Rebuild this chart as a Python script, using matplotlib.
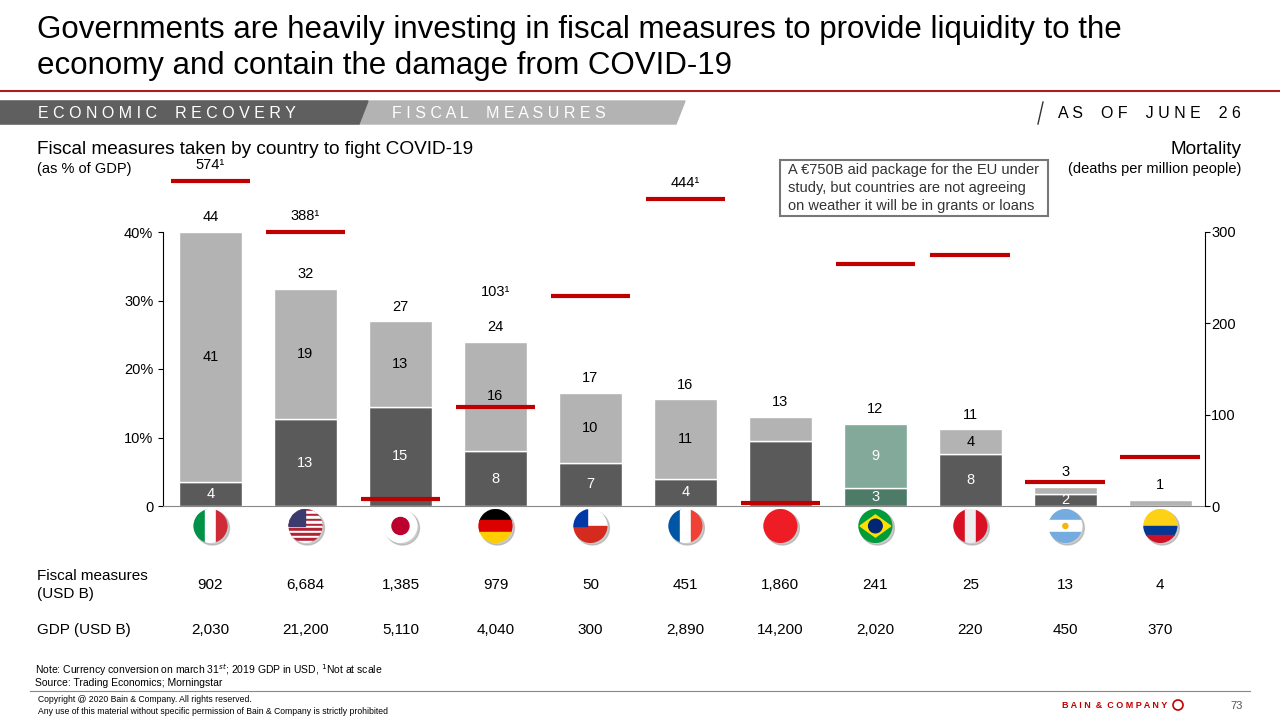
import matplotlib.pyplot as plt
import matplotlib.patches as mpatches
import numpy as np

plt.rcParams['font.family'] = ['Liberation Sans', 'DejaVu Sans']

countries = ['IT', 'US', 'JP', 'DE', 'CL', 'FR', 'CN', 'BR', 'PE', 'AR', 'CO']
spending = [3.5, 12.7, 14.5, 8, 6.3, 4, 9.5, 2.6, 7.6, 1.8, 0]
loans = [36.5, 19, 12.5, 16, 10.2, 11.6, 3.5, 9.4, 3.6, 1, 0.9]
spend_lbl = ['4', '13', '15', '8', '7', '4', '', '3', '8', '2', '']
loan_lbl = ['41', '19', '13', '16', '10', '11', '', '9', '4', '', '']
total_lbl = ['44', '32', '27', '24', '17', '16', '13', '12', '11', '3', '1']
fatality = [356, 300, 8, 108, 230, 336, 3, 265, 275, 26, 54]
fatality_lbl = ['574¹', '388¹', '', '103¹', '', '444¹', '', '', '', '', '']
fiscal_usd = ['902', '6,684', '1,385', '979', '50', '451', '1,860', '241', '25', '13', '4']
gdp_usd = ['2,030', '21,200', '5,110', '4,040', '300', '2,890', '14,200', '2,020', '220', '450', '370']

W, H = 1280, 720
fig = plt.figure(figsize=(12.8, 7.2), dpi=100)
ov = fig.add_axes([0, 0, 1, 1])
ov.set_xlim(0, W)
ov.set_ylim(H, 0)
ov.axis('off')


def spaced(words):
    return '    '.join(' '.join(w) for w in words.split())


# header
ov.text(37, 30, 'Governments are heavily investing in fiscal measures to provide liquidity to the',
        fontsize=22.5, va='center')
ov.text(37, 66, 'economy and contain the damage from COVID-19', fontsize=22.5, va='center')
ov.plot([0, W], [91, 91], color='#b01c1c', lw=1.5)
ov.add_patch(mpatches.Polygon([[0, 101], [685, 101], [676, 124], [0, 124]], color='#b3b3b3'))
ov.add_patch(mpatches.Polygon([[0, 101], [368, 101], [359, 124], [0, 124]], color='#5f5f5f'))
ov.text(38, 113, spaced('ECONOMIC RECOVERY'), color='white', fontsize=11.5, va='center')
ov.text(392, 113, spaced('FISCAL MEASURES'), color='white', fontsize=11.5, va='center')
ov.plot([1038, 1043], [124, 102], color='#333333', lw=1)
ov.text(1241, 113, spaced('AS OF JUNE 26'), fontsize=11.5, va='center', ha='right')

ov.text(37, 149, 'Fiscal measures taken by country to fight COVID-19', fontsize=13.7, va='center')
ov.text(37, 169, '(as % of GDP)', fontsize=10.5, va='center')
ov.text(1241, 149, 'Mortality', fontsize=13.7, va='center', ha='right')
ov.text(1241, 169, '(deaths per million people)', fontsize=10.5, va='center', ha='right')

# chart
ax = fig.add_axes([163 / W, (H - 506) / H, (1205 - 163) / W, (506 - 232) / H])
ax2 = ax.twinx()
x = np.arange(len(countries))
bw = 0.66
ax.bar(x, spending, bw, color=['#5a5a5a'] * 7 + ['#4e7a68'] + ['#5a5a5a'] * 3,
       edgecolor='white', lw=1, zorder=2)
ax.bar(x, loans, bw, bottom=spending, color=['#b3b3b3'] * 7 + ['#82a99a'] + ['#b3b3b3'] * 3,
       edgecolor='white', lw=1, zorder=2)
ax.set_xlim(-0.5, 10.47)
ax.set_ylim(0, 40)
ax.set_yticks([0, 10, 20, 30, 40])
ax.set_yticklabels(['0', '10%', '20%', '30%', '40%'], fontsize=10.5)
ax.set_xticks([])
for s in ['top', 'right']:
    ax.spines[s].set_visible(False)
ax.spines['bottom'].set_color('#888888')
ax2.set_ylim(0, 300)
ax2.set_yticks([0, 100, 200, 300])
ax2.tick_params(labelsize=10.5, pad=1)
for s in ['top', 'left', 'bottom']:
    ax2.spines[s].set_visible(False)
for i in range(len(x)):
    if spend_lbl[i]:
        ax.text(x[i], spending[i] / 2, spend_lbl[i], ha='center', va='center', color='white', fontsize=10.5, zorder=3)
    if loan_lbl[i]:
        ax.text(x[i], spending[i] + loans[i] / 2, loan_lbl[i], ha='center', va='center',
                color='white' if i == 7 else 'black', fontsize=10.5, zorder=3)
    top = spending[i] + loans[i]
    ax.text(x[i], top + 1.1, total_lbl[i], ha='center', va='bottom', fontsize=10.5, clip_on=False)
    ax2.hlines(fatality[i], x[i] - 0.42, x[i] + 0.42, color='#c00000', lw=3, zorder=4, clip_on=False)
    if fatality_lbl[i]:
        yy = fatality[i] + 10 if i != 3 else 227
        ax2.text(x[i], yy, fatality_lbl[i], ha='center', va='bottom', fontsize=10.5, clip_on=False)

# legend
ov.add_patch(mpatches.Rectangle((970, 305), 12, 12, color='#b3b3b3'))
ov.add_patch(mpatches.Rectangle((970, 324), 12, 12, color='#5a5a5a'))
ov.plot([966, 985], [349, 349], color='#c00000', lw=3)
ov.text(986, 311, 'Fiscal loans and guarantees', fontsize=11, va='center')
ov.text(986, 330, 'Fiscal spending', fontsize=11, va='center')
ov.text(990, 349, 'Fatality', fontsize=11, va='center')

# callouts
ov.add_patch(mpatches.Polygon([[362, 237], [676, 237], [676, 280], [362, 280], [362, 268],
                               [338, 284], [362, 258]], closed=True, fc='white', ec='#777777', lw=1.5))
ov.text(370, 250, 'Additional package, possibly reaching', fontsize=10.5, va='center', color='#333333')
ov.text(370, 268, '3 trillion USD under consideration by the gov.', fontsize=10.5, va='center', color='#333333')
ov.add_patch(mpatches.Rectangle((780, 160), 268, 56, fc='white', ec='#777777', lw=1.5))
for k, t in enumerate(['A €750B aid package for the EU under', 'study, but countries are not agreeing',
                       'on weather it will be in grants or loans']):
    ov.text(788, 170 + 18 * k, t, fontsize=10.5, va='center', color='#333333')


# flags
def flag(cx, cy, code, r=17):
    clip = mpatches.Circle((cx, cy), r, transform=ov.transData)
    ov.add_patch(mpatches.Circle((cx + 2, cy + 2), r, color='#999999', alpha=0.5))
    parts = []
    L, T = cx - r, cy - r
    d = 2 * r

    def rect(x0, y0, w, h, c):
        parts.append(mpatches.Rectangle((L + x0 * d, T + y0 * d), w * d, h * d, color=c))
    if code == 'IT':
        rect(0, 0, 1/3, 1, '#009246'); rect(1/3, 0, 1/3, 1, 'white'); rect(2/3, 0, 1/3, 1, '#ce2b37')
    elif code == 'US':
        for k in range(7):
            rect(0, k / 7, 1, 1 / 14, '#b22234'); rect(0, k / 7 + 1 / 14, 1, 1 / 14, 'white')
        rect(0, 0, 0.5, 0.5, '#3c3b6e')
    elif code == 'JP':
        rect(0, 0, 1, 1, 'white')
        parts.append(mpatches.Circle((cx, cy), r * 0.5, color='#bc002d'))
    elif code == 'DE':
        rect(0, 0, 1, 1/3, 'black'); rect(0, 1/3, 1, 1/3, '#dd0000'); rect(0, 2/3, 1, 1/3, '#ffce00')
    elif code == 'CL':
        rect(0, 0, 1, 0.5, 'white'); rect(0, 0.5, 1, 0.5, '#d52b1e'); rect(0, 0, 0.4, 0.5, '#0039a6')
    elif code == 'FR':
        rect(0, 0, 1/3, 1, '#0055a4'); rect(1/3, 0, 1/3, 1, 'white'); rect(2/3, 0, 1/3, 1, '#ef4135')
    elif code == 'CN':
        rect(0, 0, 1, 1, '#ee1c25')
    elif code == 'BR':
        rect(0, 0, 1, 1, '#009c3b')
        parts.append(mpatches.Polygon([[cx - r * 0.9, cy], [cx, cy - r * 0.65], [cx + r * 0.9, cy],
                                       [cx, cy + r * 0.65]], color='#ffdf00'))
        parts.append(mpatches.Circle((cx, cy), r * 0.4, color='#002776'))
    elif code == 'PE':
        rect(0, 0, 1/3, 1, '#d91023'); rect(1/3, 0, 1/3, 1, '#eeeeee'); rect(2/3, 0, 1/3, 1, '#d91023')
    elif code == 'AR':
        rect(0, 0, 1, 1/3, '#74acdf'); rect(0, 1/3, 1, 1/3, 'white'); rect(0, 2/3, 1, 1/3, '#74acdf')
        parts.append(mpatches.Circle((cx, cy), r * 0.15, color='#f6b40e'))
    elif code == 'CO':
        rect(0, 0, 1, 0.5, '#fcd116'); rect(0, 0.5, 1, 0.25, '#003893'); rect(0, 0.75, 1, 0.25, '#ce1126')
    for p in parts:
        ov.add_patch(p)
        p.set_clip_path(clip)


px = lambda v: 163 + (v + 0.5) * (1205 - 163) / 10.97
for i, c in enumerate(countries):
    flag(px(x[i]), 526, c)

# table
ov.text(37, 576, 'Fiscal measures', fontsize=11, va='center')
ov.text(37, 594, '(USD B)', fontsize=11, va='center')
ov.text(37, 630, 'GDP (USD B)', fontsize=11, va='center')
for i in range(len(x)):
    ov.text(px(x[i]), 585, fiscal_usd[i], fontsize=11, va='center', ha='center')
    ov.text(px(x[i]), 630, gdp_usd[i], fontsize=11, va='center', ha='center')

# footer
ov.text(35, 670, 'Note: Currency conversion on march 31$^{st}$; 2019 GDP in USD, $^{1}$Not at scale',
        fontsize=7.5, va='center')
ov.text(35, 683, 'Source: Trading Economics; Morningstar', fontsize=7.5, va='center')
ov.plot([30, 1250], [691, 691], color='#888888', lw=0.8)
ov.text(38, 699, 'Copyright @ 2020 Bain & Company. All rights reserved.', fontsize=6.2, va='center')
ov.text(38, 711, 'Any use of this material without specific permission of Bain & Company is strictly prohibited',
        fontsize=6.2, va='center')
ov.text(1167, 706, 'B A I N  &  C O M P A N Y', fontsize=6.5, va='center', ha='right', color='#c00000',
        fontweight='bold')
ov.add_patch(mpatches.Circle((1178, 705), 5, fc='none', ec='#c00000', lw=1.2))
ov.text(1230, 706, '73', fontsize=8, va='center', color='#555555')

fig.savefig('out.png', dpi=100)
